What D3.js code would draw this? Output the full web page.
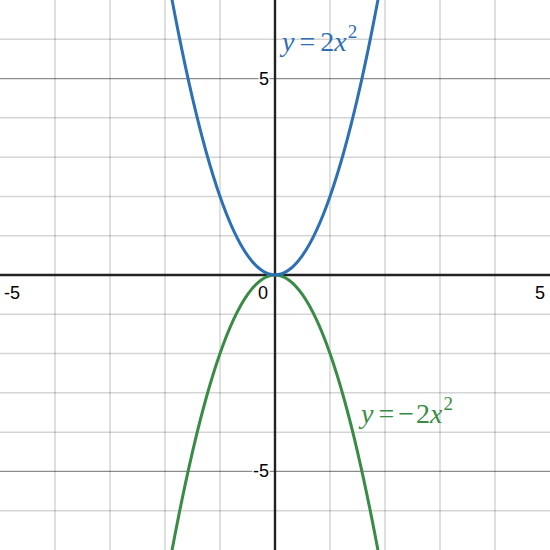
<!DOCTYPE html>
<html><head><meta charset="utf-8">
<script src="https://cdn.jsdelivr.net/npm/d3@7"></script>
<style>body{margin:0;background:#fff}svg{display:block}</style>
</head><body><svg id="c" width="550" height="550"></svg>
<script>
const xs = [-2.25,-2,-1.75,-1.5,-1.25,-1,-0.75,-0.5,-0.25,0,0.25,0.5,0.75,1,1.25,1.5,1.75,2,2.25];
const upperY = [10.125,8,6.125,4.5,3.125,2,1.125,0.5,0.125,0,0.125,0.5,1.125,2,3.125,4.5,6.125,8,10.125];
const lowerY = [-10.125,-8,-6.125,-4.5,-3.125,-2,-1.125,-0.5,-0.125,0,-0.125,-0.5,-1.125,-2,-3.125,-4.5,-6.125,-8,-10.125];
const minorX = [-4,-3,-2,-1,1,2,3,4];
const minorY = [-6,-4,-3,-2,-1,1,2,3,4,6];
const majorY = [-5,5];
const xTickLabels = ["-5","0","5"];
const xTickVals = [-5,0,5];
const yTickLabels = ["-5","5"];
const yTickVals = [-5,5];

const W=550,H=550;
const svg=d3.select("#c");
const x=d3.scaleLinear().domain([-5,5]).range([0,W]);
const y=d3.scaleLinear().domain([-7,7]).range([H,0]);

svg.append("rect").attr("width",W).attr("height",H).attr("fill","#fff");
const g=svg.append("g");
g.selectAll(".vx").data(minorX).join("line").attr("x1",d=>x(d)).attr("x2",d=>x(d)).attr("y1",0).attr("y2",H)
 .attr("stroke","#000").attr("stroke-opacity",0.17).attr("stroke-width",1.5);
g.selectAll(".hy").data(minorY).join("line").attr("y1",d=>y(d)).attr("y2",d=>y(d)).attr("x1",0).attr("x2",W)
 .attr("stroke","#000").attr("stroke-opacity",0.17).attr("stroke-width",1.5);
g.selectAll(".my").data(majorY).join("line").attr("y1",d=>y(d)).attr("y2",d=>y(d)).attr("x1",0).attr("x2",W)
 .attr("stroke","#000").attr("stroke-opacity",0.45).attr("stroke-width",1.3);
// axes
g.append("line").attr("x1",0).attr("x2",W).attr("y1",y(0)).attr("y2",y(0)).attr("stroke","#222").attr("stroke-width",2.4);
g.append("line").attr("y1",0).attr("y2",H).attr("x1",x(0)).attr("x2",x(0)).attr("stroke","#222").attr("stroke-width",2.4);

// tick labels
const lab=svg.append("g").attr("font-family","Liberation Sans, Arial, sans-serif").attr("font-size",18).attr("fill","#000");
const xPos=[d=>x(d)+4, d=>x(d)-17, d=>x(d)-15];
lab.selectAll(".xt").data(xTickVals).join("text")
 .attr("x",(d,i)=>xPos[i](d)).attr("y",y(0)+24).attr("text-anchor","start")
 .attr("stroke","#fff").attr("stroke-width",3).attr("paint-order","stroke")
 .text((d,i)=>xTickLabels[i]);
lab.selectAll(".yt").data(yTickVals).join("text")
 .attr("x",x(0)-6).attr("y",d=>y(d)+6).attr("text-anchor","end")
 .attr("stroke","#fff").attr("stroke-width",3).attr("paint-order","stroke")
 .text((d,i)=>yTickLabels[i]);

// curves
svg.append("clipPath").attr("id","cp").append("rect").attr("width",W).attr("height",H);
const line=d3.line().x(d=>x(d[0])).y(d=>y(d[1])).curve(d3.curveNatural);
const curves=svg.append("g").attr("clip-path","url(#cp)");
curves.append("path").datum(xs.map((v,i)=>[v,lowerY[i]])).attr("d",line).attr("fill","none").attr("stroke","#388c46").attr("stroke-width",3);
curves.append("path").datum(xs.map((v,i)=>[v,upperY[i]])).attr("d",line).attr("fill","none").attr("stroke","#2d70b3").attr("stroke-width",3);

// equation labels
function eq(px,py,color,neg){
  const t=svg.append("text").attr("x",px).attr("y",py).attr("fill",color)
   .attr("font-family","Liberation Serif, DejaVu Serif, serif").attr("font-size",28);
  t.append("tspan").attr("font-style","italic").text("y");
  t.append("tspan").attr("dx",5).text("=");
  if(neg) t.append("tspan").attr("dx",4).text("\u2212");
  t.append("tspan").attr("dx",neg?2:5).text("2");
  t.append("tspan").attr("font-style","italic").text("x");
  t.append("tspan").attr("font-size",19).attr("dy",-13).attr("dx",1).text("2");
}
eq(282,51,"#2d70b3",false);
eq(361,423,"#388c46",true);
</script></body></html>
